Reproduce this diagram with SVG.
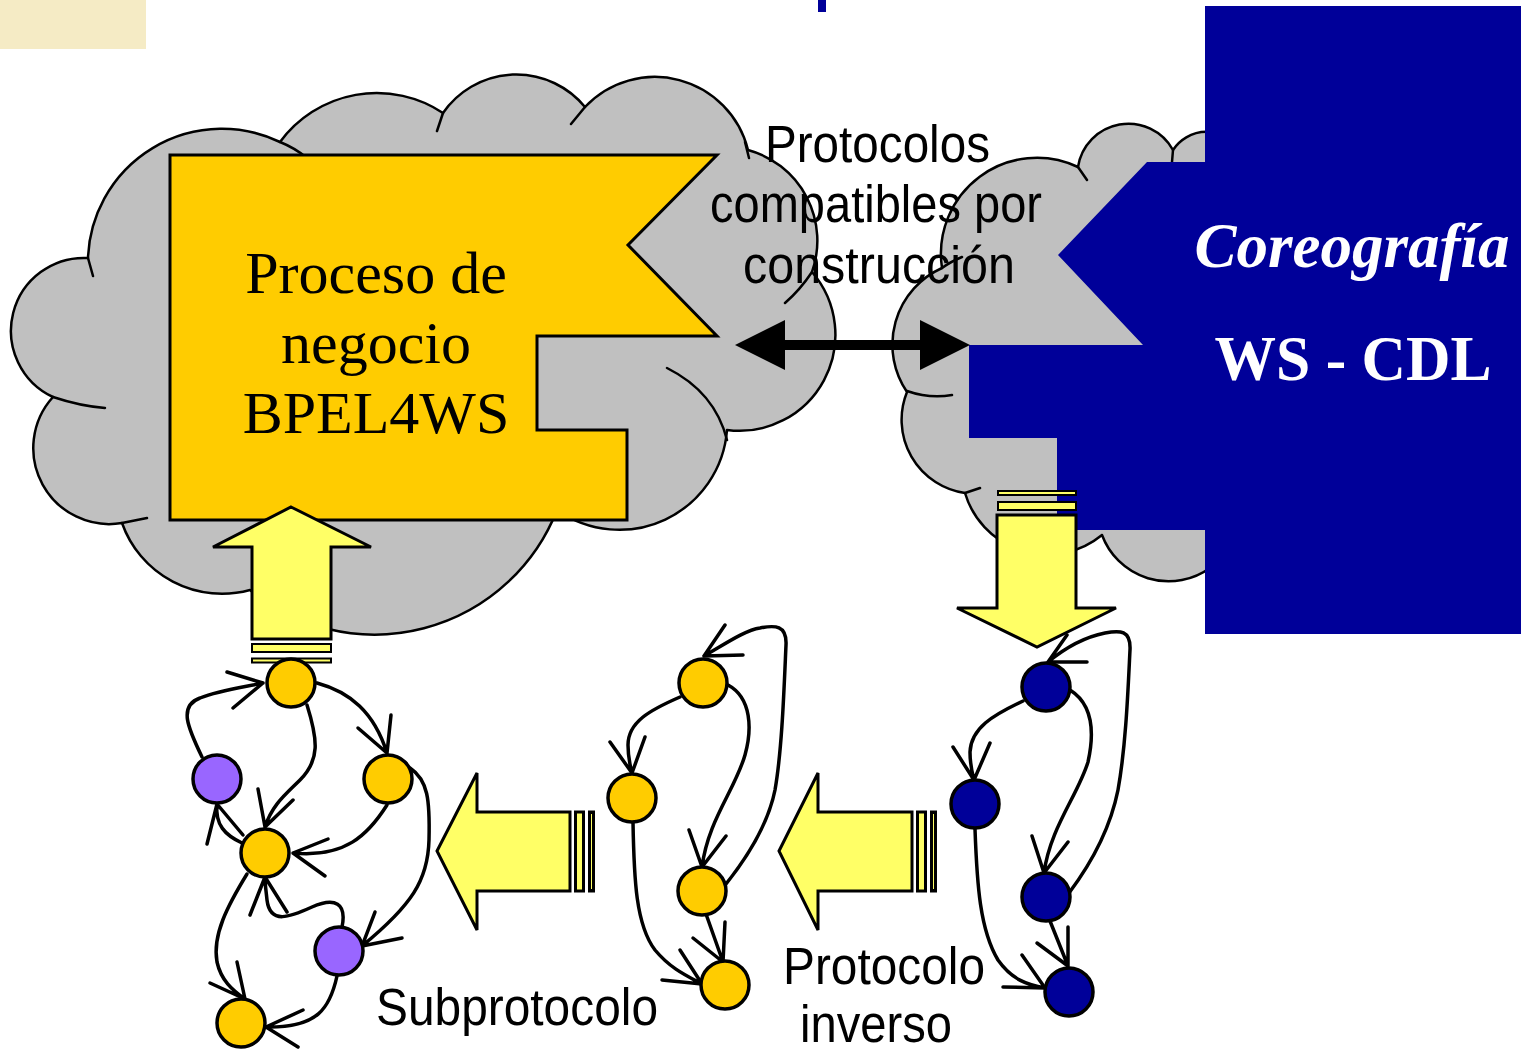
<svg xmlns="http://www.w3.org/2000/svg" width="1526" height="1050" viewBox="0 0 1526 1050">
<style>
.cloud{fill:#C0C0C0;stroke:#000;stroke-width:2.5;stroke-linejoin:round}
.tick{fill:none;stroke:#000;stroke-width:2.5;stroke-linecap:round}
.blk{fill:#FFFF66;stroke:#000;stroke-width:3}
.stripe{fill:#FFFF66;stroke:#000;stroke-width:2}
.edge{fill:none;stroke:#000;stroke-width:3.5;stroke-linecap:round;stroke-linejoin:round}
.ny{fill:#FFCC00;stroke:#000;stroke-width:3.5}
.np{fill:#9966FF;stroke:#000;stroke-width:3.5}
.nb{fill:#000099;stroke:#000;stroke-width:3.5}
.sans{font-family:"Liberation Sans","DejaVu Sans",sans-serif;font-size:51px;fill:#000}
.serif{font-family:"Liberation Serif","DejaVu Serif",serif;font-size:60px;fill:#000}
.wh{font-family:"Liberation Serif","DejaVu Serif",serif;font-weight:bold;fill:#fff;font-size:63px}
</style>
<rect x="0" y="0" width="146" height="49" fill="#F5EBC5"/>
<rect x="818" y="0" width="8" height="12" fill="#000099"/>

<g id="cloud-left">
<path class="cloud" d="M88,258 A134,134 0 0 1 280,142 A120,120 0 0 1 443,113 A89,89 0 0 1 585,107 A96,96 0 0 1 748,150 A94,94 0 0 1 812,272 A96,96 0 0 1 727,430 A108,108 0 0 1 557,510 A196,196 0 0 1 250,590 A106,106 0 0 1 122,523 A76,76 0 0 1 53,397 A73,73 0 0 1 88,258 Z"/>
<path class="tick" d="M88,258 L93,276 M280,142 Q295,148 307,158 M443,113 L437,131 M585,107 L571,124 M745,142 L749,158 M812,272 Q800,290 785,303 M667,368 Q715,392 727,440 M557,510 L561,485 M122,523 L147,518 M53,397 Q80,406 105,408"/>
</g>
<g id="cloud-right">
<path class="cloud" d="M942,268 A96,96 0 0 1 1078,167 A51,51 0 0 1 1173,150 A40,40 0 0 1 1240,150 L1240,560 L1210,568 A71,71 0 0 1 1102,535 A86,86 0 0 1 965,493 A74,74 0 0 1 907,392 A84,84 0 0 1 942,268 Z"/>
<path class="tick" d="M907,391 Q930,399 952,395 M942,268 Q950,262 962,257 M1078,167 L1087,180 M1173,150 L1172,162 M965,493 L980,488"/>
</g>

<g id="proceso">
<polygon points="170,155 717,155 628,245 717,336 537,336 537,430 627,430 627,520 170,520" fill="#FFCC00" stroke="#000" stroke-width="3"/>
<text class="serif" text-anchor="middle" x="376" y="293">Proceso de</text>
<text class="serif" text-anchor="middle" x="376" y="363">negocio</text>
<text class="serif" text-anchor="middle" x="376" y="433">BPEL4WS</text>
</g>

<g id="coreografia">
<polygon points="1205,6 1521,6 1521,634 1205,634 1205,530 1057,530 1057,438 969,438 969,345 1143,345 1058,255 1147,162 1205,162" fill="#000099"/>
<text class="wh" font-style="italic" text-anchor="middle" x="1352" y="267" textLength="315" lengthAdjust="spacingAndGlyphs">Coreografía</text>
<text class="wh" text-anchor="middle" x="1353" y="380" textLength="277" lengthAdjust="spacingAndGlyphs">WS - CDL</text>
</g>

<g id="label-compatibles">
<text class="sans" x="765" y="162" textLength="225" lengthAdjust="spacingAndGlyphs">Protocolos</text>
<text class="sans" x="710" y="222" textLength="332" lengthAdjust="spacingAndGlyphs">compatibles por</text>
<text class="sans" x="743" y="283" textLength="272" lengthAdjust="spacingAndGlyphs">construcción</text>
</g>

<g id="arrow-up">
<polygon class="blk" points="291,507 371,547 331,547 331,639 252,639 252,547 213,547"/>
<rect class="stripe" x="252" y="644" width="79" height="8"/>
<rect class="stripe" x="252" y="658.5" width="79" height="4"/>
</g>
<g id="arrow-down">
<rect class="stripe" x="998" y="491" width="78" height="4"/>
<rect class="stripe" x="998" y="502" width="78" height="8"/>
<polygon class="blk" points="997,515 1076,515 1076,608 1116,608 1037,647 957,608 997,608"/>
</g>
<g id="arrow-left-1">
<polygon class="blk" points="437,851 477,773 477,812 570,812 570,891 477,891 477,930"/>
<rect class="blk" x="575.5" y="812" width="8" height="79"/>
<rect class="blk" x="589.5" y="812" width="4" height="79"/>
</g>
<g id="arrow-left-2">
<polygon class="blk" points="779,851 818,773 818,812 912,812 912,891 818,891 818,930"/>
<rect class="blk" x="917.5" y="812" width="8" height="79"/>
<rect class="blk" x="931.5" y="812" width="4" height="79"/>
</g>

<g id="connectors">
<g id="double-arrow">
<line x1="780" y1="345" x2="925" y2="345" stroke="#000" stroke-width="10"/>
<polygon points="735,345 785,320 785,370" fill="#000"/>
<polygon points="970,345 920,320 920,370" fill="#000"/>
</g>
<path class="edge" d="M202,757 C188,728 178,706 200,698 C220,690 245,687 263,683 M227,672 L263,683 L233,708"/>
<path class="edge" d="M317,683 C350,692 374,712 387,753 M358,728 L387,753 L391,715"/>
<path class="edge" d="M307,705 C318,740 320,760 300,780 C285,795 272,805 265,827 M258,789 L265,827 L293,800"/>
<path class="edge" d="M387,805 C368,835 345,858 293,853 M328,839 L293,853 L325,876"/>
<path class="edge" d="M242,843 C225,835 215,825 217,804 M207,844 L217,804 L243,835"/>
<path class="edge" d="M342,927 C347,903 335,897 312,907 C290,917 270,925 267,900 C266,890 265,885 265,877 M250,915 L265,877 L287,912"/>
<path class="edge" d="M247,874 C228,905 212,935 217,962 C221,980 232,990 245,999 M237,962 L245,999 L210,983"/>
<path class="edge" d="M410,768 C428,780 430,800 429,840 C428,880 412,905 362,946 M375,912 L362,946 L402,938"/>
<path class="edge" d="M337,976 C330,1008 318,1028 266,1027 M303,1010 L266,1027 L298,1047"/>
<path class="edge" d="M680,697 C650,710 628,722 628,745 C628,758 630,765 632,773 M610,742 L632,773 L645,737"/>
<path class="edge" d="M728,685 C752,698 752,730 745,755 C735,790 708,820 702,867 M689,830 L702,867 L726,836"/>
<path class="edge" d="M726,884 C745,860 768,825 775,790 C782,750 784,690 786,645 C787,625 775,625 760,628 C745,630 722,646 704,656 M725,625 L704,656 L743,655"/>
<path class="edge" d="M633,822 C634,880 636,925 655,950 C670,968 685,975 702,984 M680,950 L702,984 L662,980"/>
<path class="edge" d="M706,914 L723,962 M725,922 L723,962 L693,938"/>
<path class="edge" d="M1023,701 C993,715 971,728 970,752 C970,765 972,772 974,780 M953,747 L974,780 L990,743"/>
<path class="edge" d="M1070,690 C1094,705 1094,735 1088,762 C1078,795 1050,828 1044,873 M1032,836 L1044,873 L1068,842"/>
<path class="edge" d="M1069,893 C1090,865 1110,830 1118,790 C1126,745 1128,690 1130,650 C1131,630 1120,630 1105,633 C1085,637 1065,648 1048,662 M1067,635 L1048,662 L1087,662"/>
<path class="edge" d="M975,829 C977,885 980,930 998,960 C1012,980 1028,985 1045,988 M1022,955 L1045,988 L1003,987"/>
<path class="edge" d="M1050,921 L1068,966 M1068,927 L1068,966 L1037,943"/>
</g>

<g id="n1"><circle class="ny" cx="291" cy="683" r="24"/></g>
<g id="n2"><circle class="np" cx="217" cy="779" r="24"/></g>
<g id="n3"><circle class="ny" cx="388" cy="779" r="24"/></g>
<g id="n4"><circle class="ny" cx="265" cy="853" r="24"/></g>
<g id="n5"><circle class="np" cx="339" cy="951" r="24"/></g>
<g id="n6"><circle class="ny" cx="241" cy="1023" r="24"/></g>
<g id="m1"><circle class="ny" cx="703" cy="683" r="24"/></g>
<g id="m2"><circle class="ny" cx="632" cy="798" r="24"/></g>
<g id="m3"><circle class="ny" cx="702" cy="891" r="24"/></g>
<g id="m4"><circle class="ny" cx="725" cy="985" r="24"/></g>
<g id="b1"><circle class="nb" cx="1046" cy="687" r="24"/></g>
<g id="b2"><circle class="nb" cx="975" cy="804" r="24"/></g>
<g id="b3"><circle class="nb" cx="1046" cy="897" r="24"/></g>
<g id="b4"><circle class="nb" cx="1069" cy="992" r="24"/></g>

<g id="label-sub"><text class="sans" x="376" y="1025" textLength="282" lengthAdjust="spacingAndGlyphs">Subprotocolo</text></g>
<g id="label-inverso">
<text class="sans" x="783" y="984" textLength="202" lengthAdjust="spacingAndGlyphs">Protocolo</text>
<text class="sans" x="800" y="1042" textLength="152" lengthAdjust="spacingAndGlyphs">inverso</text>
</g>
</svg>
